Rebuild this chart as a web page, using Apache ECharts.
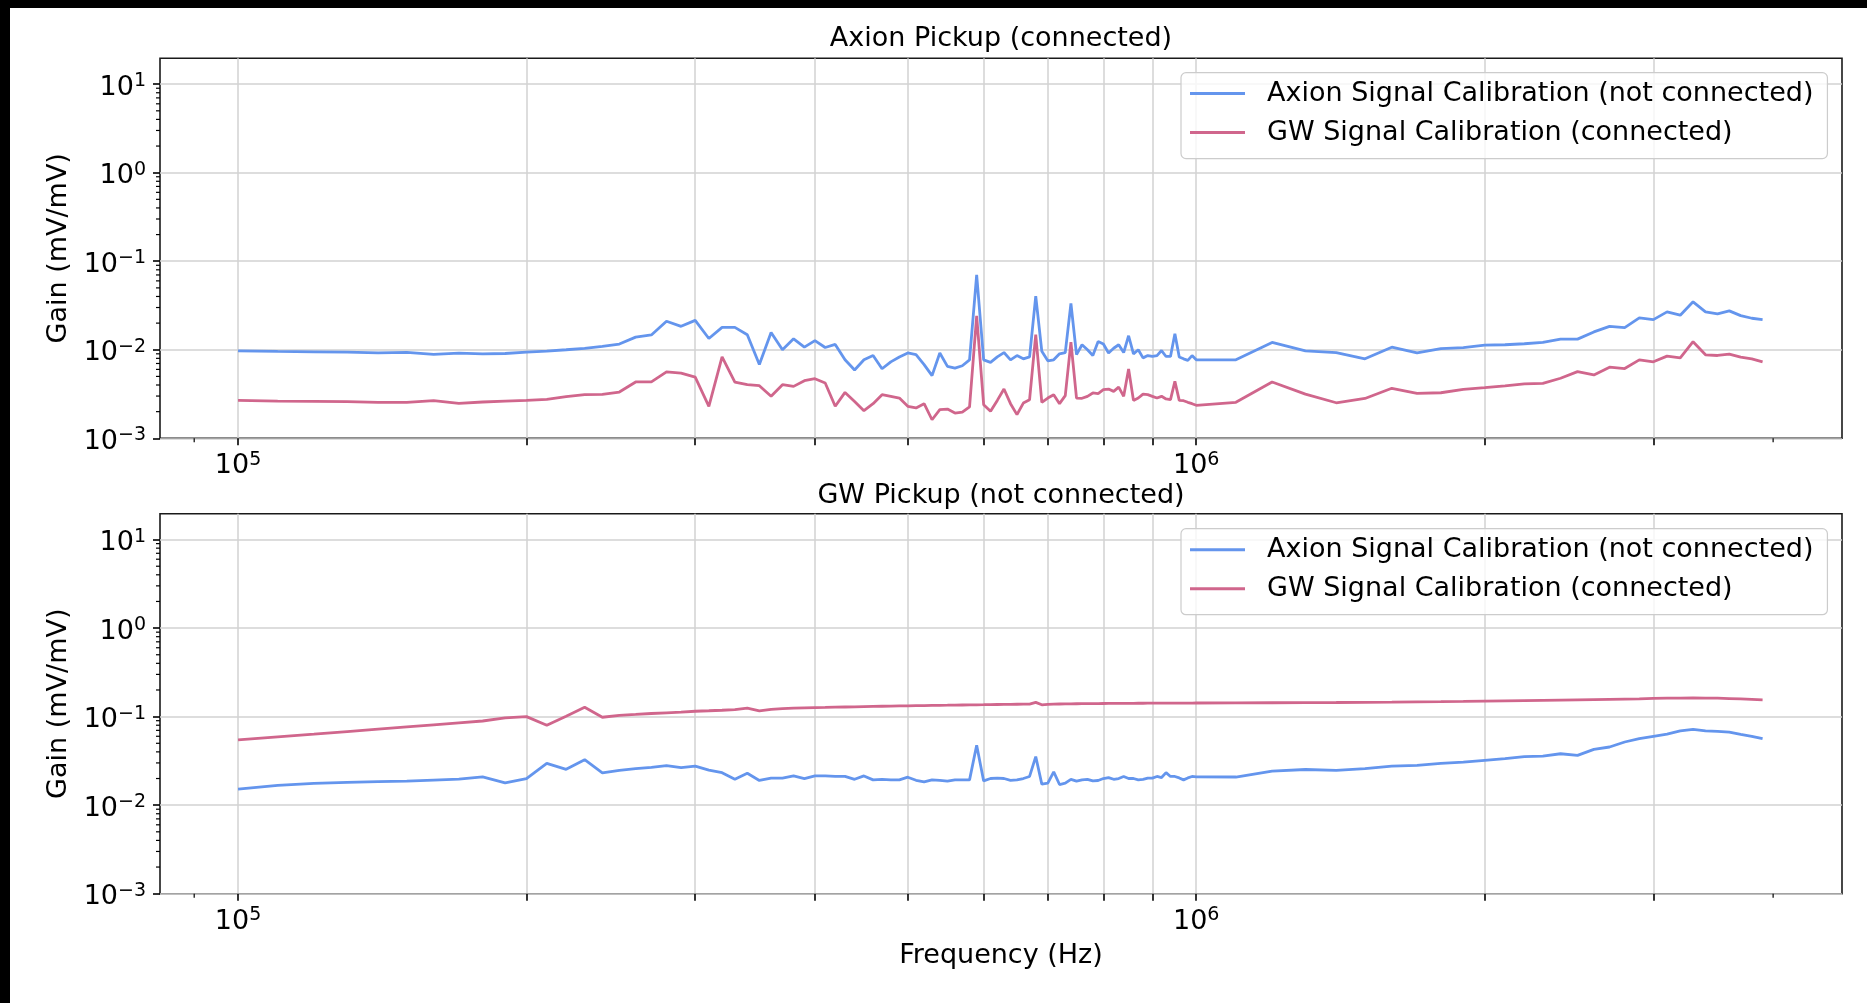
<!DOCTYPE html>
<html>
<head>
<meta charset="utf-8">
<title>Pickup calibration gain</title>
<script src="https://cdn.jsdelivr.net/npm/echarts@6/dist/echarts.min.js"></script>
<style>
  html, body { margin: 0; padding: 0; background: #000; width: 1867px; height: 1003px; overflow: hidden; }
  #chart { position: absolute; left: 10px; top: 8px; width: 1857px; height: 995px; background: #fff; }
</style>
</head>
<body>
<div id="chart"></div>
<script>
// Sweep frequencies (Hz): 10 kHz steps up to 1 MHz, then 100 kHz steps
const freqHz = [
  100000, 110000, 120000, 130000, 140000, 150000, 160000, 170000, 180000, 190000,
  200000, 210000, 220000, 230000, 240000, 250000, 260000, 270000, 280000, 290000,
  300000, 310000, 320000, 330000, 340000, 350000, 360000, 370000, 380000, 390000,
  400000, 410000, 420000, 430000, 440000, 450000, 460000, 470000, 480000, 490000,
  500000, 510000, 520000, 530000, 540000, 550000, 560000, 570000, 580000, 590000,
  600000, 610000, 620000, 630000, 640000, 650000, 660000, 670000, 680000, 690000,
  700000, 710000, 720000, 730000, 740000, 750000, 760000, 770000, 780000, 790000,
  800000, 810000, 820000, 830000, 840000, 850000, 860000, 870000, 880000, 890000,
  900000, 910000, 920000, 930000, 940000, 950000, 960000, 970000, 980000, 990000,
  1000000,
  1100000, 1200000, 1300000, 1400000, 1500000, 1600000, 1700000, 1800000, 1900000,
  2000000, 2100000, 2200000, 2300000, 2400000, 2500000, 2600000, 2700000, 2800000, 2900000,
  3000000, 3100000, 3200000, 3300000, 3400000, 3500000, 3600000, 3700000, 3800000, 3900000
];

// Axion pickup (connected) – gain in mV/mV
const topAxionGain = [
  0.00974, 0.00957, 0.00949, 0.00941, 0.00924, 0.00933, 0.00885, 0.00916, 0.00901, 0.00908,
  0.00941, 0.00966, 0.0100, 0.01035, 0.01091, 0.0116, 0.0139, 0.0147, 0.0210, 0.0184,
  0.0215, 0.0134, 0.0179, 0.0179, 0.0148, 0.0068, 0.0157, 0.0100, 0.0133, 0.0107,
  0.0127, 0.0106, 0.0115, 0.0077, 0.0059, 0.0077, 0.0086, 0.0061, 0.0073, 0.0083,
  0.0092, 0.0088, 0.0068, 0.0051, 0.0092, 0.0065, 0.0062, 0.0066, 0.0077, 0.0700,
  0.0077, 0.0072, 0.0083, 0.0093, 0.0077, 0.0086, 0.0079, 0.0083, 0.0404, 0.0096,
  0.0075, 0.0077, 0.0090, 0.0093, 0.0333, 0.0088, 0.0114, 0.0100, 0.0086, 0.0124,
  0.0116, 0.0092, 0.0104, 0.0114, 0.0093, 0.0144, 0.0090, 0.0100, 0.0081, 0.0086,
  0.0084, 0.0086, 0.0098, 0.0084, 0.0084, 0.0152, 0.0083, 0.0079, 0.0076, 0.0086,
  0.0077,
  0.0077, 0.0121, 0.0097, 0.0093, 0.0079, 0.0107, 0.0092, 0.0103, 0.0106,
  0.0113, 0.0114, 0.0117, 0.0121, 0.0132, 0.0132, 0.0159, 0.0184, 0.0178, 0.0229,
  0.0219, 0.0268, 0.0246, 0.0348, 0.0268, 0.0254, 0.0275, 0.0243, 0.0227, 0.0219
];
const topGwGain = [
  0.00268, 0.00263, 0.00261, 0.00259, 0.00254, 0.00254, 0.00266, 0.00248, 0.00257, 0.00263,
  0.00268, 0.00275, 0.00295, 0.00311, 0.00314, 0.00333, 0.00433, 0.00433, 0.00562, 0.00545,
  0.00490, 0.00229, 0.00830, 0.00432, 0.00403, 0.00393, 0.00298, 0.00403, 0.00386, 0.00447,
  0.00471, 0.00421, 0.00230, 0.00330, 0.00261, 0.00205, 0.00246, 0.00311, 0.00298, 0.00285,
  0.00230, 0.00220, 0.00246, 0.00162, 0.00211, 0.00214, 0.00193, 0.00198, 0.00227, 0.0242,
  0.00240, 0.00202, 0.00268, 0.00360, 0.00246, 0.00185, 0.00250, 0.00273, 0.0148, 0.00255,
  0.00285, 0.00311, 0.00246, 0.00303, 0.0122, 0.00285, 0.00283, 0.00298, 0.00325, 0.00319,
  0.00354, 0.00360, 0.00339, 0.00379, 0.00298, 0.00605, 0.00268, 0.00285, 0.00316, 0.00311,
  0.00298, 0.00285, 0.00298, 0.00278, 0.00273, 0.00440, 0.00268, 0.00266, 0.00255, 0.00246,
  0.00236,
  0.00255, 0.00433, 0.00316, 0.00252, 0.00282, 0.00367, 0.00322, 0.00327, 0.00357,
  0.00373, 0.00390, 0.00411, 0.00418, 0.00477, 0.00567, 0.00520, 0.00635, 0.00614, 0.00769,
  0.00731, 0.00847, 0.00811, 0.01233, 0.00877, 0.00862, 0.00893, 0.00826, 0.00790, 0.00731
];

// GW pickup (not connected) – gain in mV/mV
const bottomAxionGain = [
  0.0152, 0.0167, 0.0176, 0.0181, 0.0184, 0.0187, 0.0192, 0.0197, 0.0209, 0.0179,
  0.0199, 0.0296, 0.0254, 0.0326, 0.0232, 0.0247, 0.0258, 0.0267, 0.0279, 0.0265,
  0.0276, 0.0249, 0.0233, 0.0196, 0.0229, 0.0190, 0.0202, 0.0202, 0.0214, 0.0200,
  0.0214, 0.0214, 0.0212, 0.0211, 0.0196, 0.0214, 0.0193, 0.0196, 0.0193, 0.0193,
  0.0207, 0.0191, 0.0183, 0.0193, 0.0191, 0.0187, 0.0193, 0.0193, 0.0193, 0.0475,
  0.0188, 0.0200, 0.0202, 0.0200, 0.0191, 0.0193, 0.0200, 0.0211, 0.0354, 0.0173,
  0.0177, 0.0238, 0.0171, 0.0177, 0.0196, 0.0187, 0.0193, 0.0196, 0.0188, 0.0190,
  0.0200, 0.0205, 0.0196, 0.0200, 0.0211, 0.0200, 0.0200, 0.0193, 0.0196, 0.0202,
  0.0202, 0.0211, 0.0205, 0.0233, 0.0211, 0.0211, 0.0203, 0.0193, 0.0203, 0.0211,
  0.0209,
  0.0208, 0.0243, 0.0253, 0.0247, 0.0258, 0.0276, 0.0281, 0.0296, 0.0307,
  0.0321, 0.0335, 0.0353, 0.0359, 0.0381, 0.0365, 0.0427, 0.0454, 0.0517, 0.0563,
  0.0599, 0.0636, 0.0689, 0.0719, 0.0689, 0.0683, 0.0670, 0.0631, 0.0599, 0.0563
];
const bottomGwGain = [
  0.0545, 0.0590, 0.0634, 0.0679, 0.0723, 0.0766, 0.0809, 0.0851, 0.0893, 0.0966,
  0.1000, 0.0798, 0.1010, 0.1276, 0.0984, 0.1035, 0.1060, 0.1085, 0.1105, 0.1125,
  0.1150, 0.1165, 0.1180, 0.1200, 0.1250, 0.1165, 0.1210, 0.1230, 0.1245, 0.1255,
  0.1265, 0.1270, 0.1278, 0.1285, 0.1292, 0.1298, 0.1304, 0.1310, 0.1315, 0.1320,
  0.1325, 0.1330, 0.1334, 0.1338, 0.1342, 0.1346, 0.1350, 0.1354, 0.1357, 0.1360,
  0.1364, 0.1368, 0.1372, 0.1375, 0.1378, 0.1381, 0.1384, 0.1387, 0.1450, 0.1360,
  0.1375, 0.1385, 0.1390, 0.1393, 0.1396, 0.1398, 0.1400, 0.1402, 0.1404, 0.1406,
  0.1408, 0.1410, 0.1411, 0.1412, 0.1413, 0.1414, 0.1415, 0.1416, 0.1417, 0.1418,
  0.1419, 0.1420, 0.1421, 0.1421, 0.1422, 0.1422, 0.1423, 0.1423, 0.1424, 0.1424,
  0.1425,
  0.1430, 0.1435, 0.1440, 0.1445, 0.1452, 0.1460, 0.1468, 0.1476, 0.1485,
  0.1495, 0.1505, 0.1515, 0.1525, 0.1535, 0.1545, 0.1555, 0.1565, 0.1575, 0.1585,
  0.1605, 0.1615, 0.1622, 0.1627, 0.1622, 0.1615, 0.1600, 0.1585, 0.1565, 0.1545
];

const panelTitles = ['Axion Pickup (connected)', 'GW Pickup (not connected)'];
const seriesNames = ['Axion Signal Calibration (not connected)', 'GW Signal Calibration (connected)'];
const seriesColors = ['#6495ED', '#D0668C'];

// Tick positions
const xLabelHz = [1e5, 1e6];
const xGridHz = [1e5, 2e5, 3e5, 4e5, 5e5, 6e5, 7e5, 8e5, 9e5, 1e6, 2e6, 3e6];
const xMinorHz = [9e4, 4e6];
const yDecades = [1e-3, 1e-2, 1e-1, 1, 10];
const yMinor = [
  0.002, 0.003, 0.004, 0.005, 0.006, 0.007, 0.008, 0.009,
  0.02, 0.03, 0.04, 0.05, 0.06, 0.07, 0.08, 0.09,
  0.2, 0.3, 0.4, 0.5, 0.6, 0.7, 0.8, 0.9,
  2, 3, 4, 5, 6, 7, 8, 9
];
const xRange = [82900, 4.72e6];
const yRange = [1e-3, 19.6];

const FONT = 'DejaVu Sans';
const INK = '#000';

function powLabel(v) {
  const lg = Math.log10(v);
  const e = Math.round(lg);
  if (Math.abs(lg - e) > 1e-6) return '';
  return '{b|10}{s|' + String(e).replace('-', '\u2212') + '}';
}
const labelRich = {
  b: { fontSize: 27, fontFamily: FONT, color: INK, lineHeight: 32 },
  s: { fontSize: 19, fontFamily: FONT, color: INK, lineHeight: 19, verticalAlign: 'top' }
};

const gridBoxes = [
  { left: 150, width: 1682, top: 50.3, height: 380 },
  { left: 150, width: 1682, top: 505.7, height: 380 }
];

function makeXAxis(i) {
  return {
    type: 'log', gridIndex: i, min: xRange[0], max: xRange[1],
    name: i === 1 ? 'Frequency (Hz)' : '',
    nameLocation: 'middle', nameGap: 49,
    nameTextStyle: { fontSize: 27, fontFamily: FONT, color: INK },
    axisLine: { show: false },
    axisTick: { show: true, inside: false, length: 7, customValues: xGridHz,
      lineStyle: { color: INK, width: 1.6 } },
    axisLabel: { show: true, margin: 12, customValues: xLabelHz, formatter: powLabel, rich: labelRich },
    splitLine: { show: true, lineStyle: { color: '#d2d2d2', width: 1.5 } },
    minorTick: { show: false }, minorSplitLine: { show: false }
  };
}
function makeYAxis(i) {
  return {
    type: 'log', gridIndex: i, min: yRange[0], max: yRange[1],
    name: 'Gain (mV/mV)', nameLocation: 'middle', nameGap: 82, nameRotate: 90,
    nameTextStyle: { fontSize: 27, fontFamily: FONT, color: INK },
    axisLine: { show: false },
    axisTick: { show: true, inside: false, length: 7, customValues: yDecades,
      lineStyle: { color: INK, width: 1.6 } },
    axisLabel: { show: true, margin: 14, padding: [7, 0, 0, 0], customValues: yDecades,
      formatter: powLabel, rich: labelRich },
    splitLine: { show: true, lineStyle: { color: '#d2d2d2', width: 1.5 } },
    minorTick: { show: false }, minorSplitLine: { show: false }
  };
}

// Short minor ticks: x at 90 kHz / 4 MHz, y at 2..9 per decade
function minorTickSeries(i) {
  const items = xMinorHz.map(v => [v, yRange[0], 0]).concat(yMinor.map(v => [xRange[0], v, 1]));
  return {
    type: 'custom', xAxisIndex: i, yAxisIndex: i, silent: true, clip: false, z: 6,
    data: items,
    renderItem: function (params, api) {
      const p = api.coord([api.value(0), api.value(1)]);
      const horiz = api.value(2) === 1;
      return {
        type: 'line',
        shape: horiz ? { x1: p[0] - 4, y1: p[1], x2: p[0], y2: p[1] }
                     : { x1: p[0], y1: p[1], x2: p[0], y2: p[1] + 4 },
        style: { stroke: INK, lineWidth: 1.2 }
      };
    }
  };
}

function lineSeries(name, i, gains, color) {
  return {
    type: 'line', name: name, xAxisIndex: i, yAxisIndex: i,
    data: freqHz.map((f, k) => [f, gains[k]]),
    symbol: 'none', showSymbol: false, smooth: false, z: 3,
    lineStyle: { color: color, width: 2.8 }, itemStyle: { color: color },
    emphasis: { disabled: true }
  };
}

function makeLegend(top) {
  return {
    orient: 'vertical', left: 1171, top: top,
    data: seriesNames.map(n => ({ name: n, icon: 'rect' })),
    itemWidth: 55, itemHeight: 3, itemGap: 7,
    padding: [5, 14, 10, 9],
    backgroundColor: 'rgba(255,255,255,0.8)',
    borderColor: '#cccccc', borderWidth: 1.2, borderRadius: 5,
    textStyle: { fontSize: 27, fontFamily: FONT, color: INK, lineHeight: 32, padding: [0, 0, 0, 17] },
    selectedMode: false
  };
}

const chart = echarts.init(document.getElementById('chart'), null, { renderer: 'canvas' });
chart.setOption({
  animation: false,
  backgroundColor: '#fff',
  textStyle: { fontFamily: FONT },
  title: [
    { text: panelTitles[0], left: 991, top: 15, textAlign: 'center', padding: 0,
      textStyle: { fontSize: 27, fontWeight: 'normal', fontFamily: FONT, color: INK, lineHeight: 32 } },
    { text: panelTitles[1], left: 991, top: 471.5, textAlign: 'center', padding: 0,
      textStyle: { fontSize: 27, fontWeight: 'normal', fontFamily: FONT, color: INK, lineHeight: 32 } }
  ],
  legend: [makeLegend(64.6), makeLegend(520.7)],
  grid: gridBoxes.map(g => Object.assign({
    show: true, borderColor: '#1a1a1a', borderWidth: 1.6, backgroundColor: 'transparent',
    containLabel: false, outerBoundsMode: 'none'
  }, g)),
  xAxis: [makeXAxis(0), makeXAxis(1)],
  yAxis: [makeYAxis(0), makeYAxis(1)],
  series: [
    lineSeries(seriesNames[0], 0, topAxionGain, seriesColors[0]),
    lineSeries(seriesNames[1], 0, topGwGain, seriesColors[1]),
    lineSeries(seriesNames[0], 1, bottomAxionGain, seriesColors[0]),
    lineSeries(seriesNames[1], 1, bottomGwGain, seriesColors[1]),
    minorTickSeries(0),
    minorTickSeries(1)
  ]
});
</script>
</body>
</html>
